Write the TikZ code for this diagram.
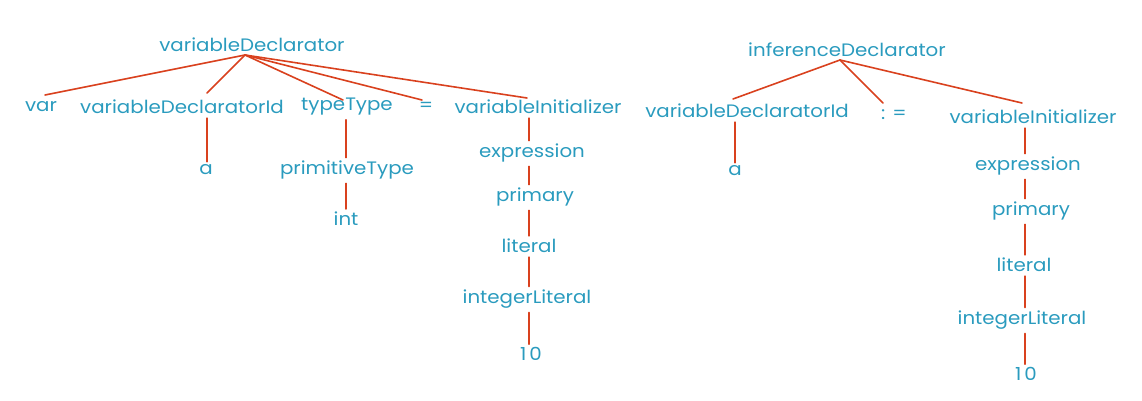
\documentclass[tikz,border=0pt]{standalone}
\usepackage{fontspec}
\setmainfont{Poppins}[FakeStretch=1.1]
\definecolor{txtc}{HTML}{2A9BBE}
\definecolor{edgec}{HTML}{D9411E}
\begin{document}
\begin{tikzpicture}[x=1pt,y=-1pt,
  lbl/.style={text=txtc, font=\fontsize{18}{20}\selectfont, inner sep=0pt, anchor=center},
  edge/.style={draw=edgec, line width=1.6pt, line cap=round},
  vedge/.style={edge, shorten <=4pt, shorten >=3pt}]
\useasboundingbox (0,0) rectangle (1142,401);
% ---------- tree 1 ----------
\node[lbl] (vd)  at (252,45)  {variableDeclarator};
\node[lbl] (var) at (41,107)  {var};
\node[lbl] (vdi) at (182,107) {variableDeclaratorId};
\node[lbl] (tt)  at (347,107) {typeType};
\node[lbl] (eq)  at (426,107) {=};
\node[lbl] (vi)  at (538,107) {variableInitializer};
\node[lbl] (a1)  at (206,170) {a};
\node[lbl] (pt)  at (347,170) {primitiveType};
\node[lbl] (int) at (346,219) {int};
\node[lbl] (ex1) at (532,153) {expression};
\node[lbl] (pr1) at (535,197) {primary};
\node[lbl] (li1) at (529,246) {literal};
\node[lbl] (il1) at (527,299) {integerLiteral};
\node[lbl] (ten1) at (531,354) {1\,0};
\coordinate (h1) at (245,55);
\coordinate (x1) at (529,0);
\coordinate (xa1) at (207,0);
\coordinate (xt1) at (346,0);
\draw[edge] (h1) -- ([shift={(4,-12)}]var.center);
\draw[edge] (h1) -- ([shift={(25,-14)}]vdi.center);
\draw[edge] (h1) -- ([shift={(-4,-7)}]tt.center);
\draw[edge] (h1) -- ([shift={(-4,-7)}]eq.center);
\draw[edge] (h1) -- ([shift={(-11,-9)}]vi.center);
\draw[vedge] (vdi.south -| xa1) -- (a1.north -| xa1);
\draw[vedge] (tt.south -| xt1) -- (pt.north -| xt1);
\draw[vedge] (pt.south -| xt1) -- (int.north -| xt1);
\draw[vedge] (vi.south -| x1) -- (ex1.north -| x1);
\draw[vedge] (ex1.south -| x1) -- (pr1.north -| x1);
\draw[vedge] (pr1.south -| x1) -- (li1.north -| x1);
\draw[vedge] (li1.south -| x1) -- (il1.north -| x1);
\draw[vedge] (il1.south -| x1) -- (ten1.north -| x1);
% ---------- tree 2 ----------
\node[lbl] (idc)  at (847,50)  {inferenceDeclarator};
\node[lbl] (vdi2) at (747,111) {variableDeclaratorId};
\node[lbl] (ce)   at (894,115) {: =};
\node[lbl] (vi2)  at (1033,117) {variableInitializer};
\node[lbl] (a2)   at (735,171) {a};
\node[lbl] (ex2)  at (1028,166) {expression};
\node[lbl] (pr2)  at (1031,211) {primary};
\node[lbl] (li2)  at (1024,265) {literal};
\node[lbl] (il2)  at (1022,320) {integerLiteral};
\node[lbl] (ten2) at (1026,374) {1\,0};
\coordinate (h2) at (840,60);
\coordinate (x2) at (1025,0);
\coordinate (xa2) at (735,0);
\draw[edge] (h2) -- ([shift={(-14,-12)}]vdi2.center);
\draw[edge] (h2) -- ([shift={(-11,-12)}]ce.center);
\draw[edge] (h2) -- ([shift={(-11,-14)}]vi2.center);
\draw[vedge] (vdi2.south -| xa2) -- (a2.north -| xa2);
\draw[vedge] (vi2.south -| x2) -- (ex2.north -| x2);
\draw[vedge] (ex2.south -| x2) -- (pr2.north -| x2);
\draw[vedge] (pr2.south -| x2) -- (li2.north -| x2);
\draw[vedge] (li2.south -| x2) -- (il2.north -| x2);
\draw[vedge] (il2.south -| x2) -- (ten2.north -| x2);
\end{tikzpicture}
\end{document}
